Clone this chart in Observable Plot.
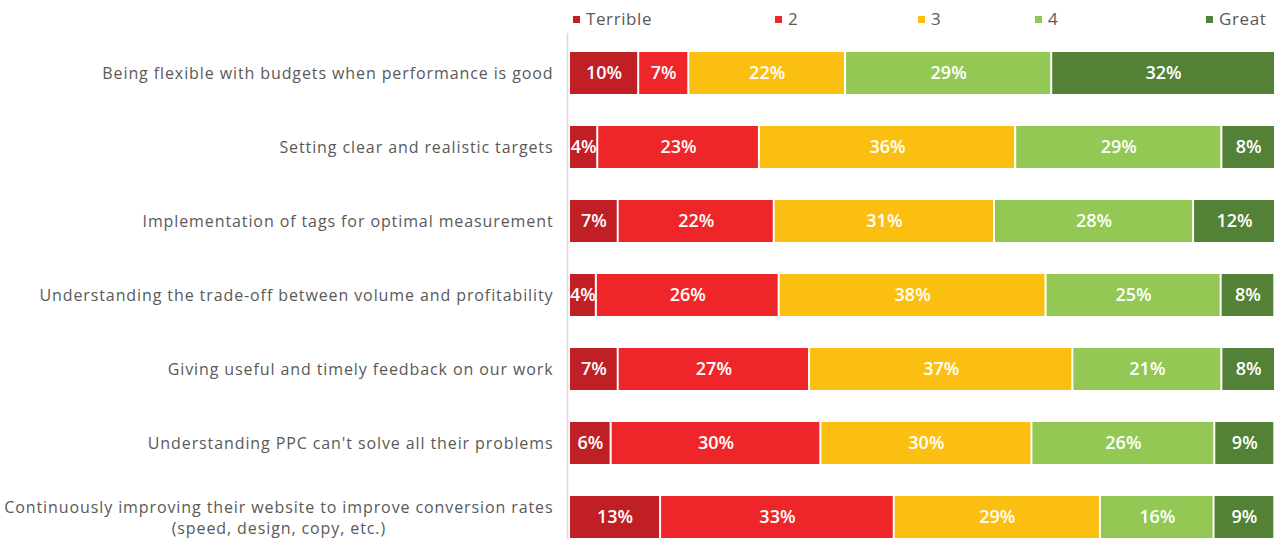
<!DOCTYPE html>
<html>
<head>
<meta charset="utf-8">
<script src="https://cdn.jsdelivr.net/npm/d3@7"></script>
<script src="https://cdn.jsdelivr.net/npm/@observablehq/plot@0.6"></script>
<style>
  html, body { margin: 0; padding: 0; background: #fff; }
  #wrap { width: 1275px; font-family: "Open Sans", sans-serif; color: #595959; }
  #legend { position: relative; width: 1275px; height: 38px; font-size: 17px; letter-spacing: 0.6px; }
  .item { position: absolute; top: 7px; line-height: 24px; white-space: nowrap; }
  .sw { display: inline-block; width: 7px; height: 7px; margin-right: 6px; vertical-align: middle; position: relative; top: -1px; }
  svg { display: block; overflow: visible; }
</style>
</head>
<body>
<div id="wrap">
  <div id="legend"></div>
  <div id="chart"></div>
</div>
<script>
const categories = [
  "Being flexible with budgets when performance is good",
  "Setting clear and realistic targets",
  "Implementation of tags for optimal measurement",
  "Understanding the trade-off between volume and profitability",
  "Giving useful and timely feedback on our work",
  "Understanding PPC can't solve all their problems",
  "Continuously improving their website to improve conversion rates\n(speed, design, copy, etc.)"
];
const levels = ["Terrible", "2", "3", "4", "Great"];
const levelColors = ["#C01F26", "#EE2629", "#FBBF12", "#92C853", "#538136"];
const terrible = [9.8, 4.0, 6.9, 3.8, 6.9, 5.9, 12.9];
const two      = [7.1, 22.9, 22.1, 25.9, 27.1, 29.7, 33.1];
const three    = [22.2, 36.3, 31.2, 37.8, 37.3, 29.9, 29.2];
const four     = [29.2, 29.2, 28.2, 24.8, 21.1, 25.9, 16.1];
const great    = [31.7, 7.6, 11.6, 7.6, 7.6, 8.5, 8.6];
const legendLeft = [573, 775, 918, 1035, 1206];

const series = [terrible, two, three, four, great];
const data = [];
levels.forEach((lv, i) => {
  categories.forEach((c, j) => data.push({cat: c, level: lv, value: series[i][j]}));
});

// legend
const legend = document.getElementById("legend");
levels.forEach((lv, i) => {
  const d = document.createElement("div");
  d.className = "item";
  d.style.left = legendLeft[i] + "px";
  d.innerHTML = `<span class="sw" style="background:${levelColors[i]}"></span>${lv}`;
  legend.appendChild(d);
});

const chart = Plot.plot({
  width: 1275,
  height: 502,
  marginLeft: 569,
  marginRight: 0,
  marginTop: 13,
  marginBottom: 1,
  style: {fontFamily: "Open Sans, sans-serif", fontSize: "16px", color: "#595959", background: "#fff", overflow: "visible"},
  x: {domain: [0, 100], axis: null},
  y: {domain: categories, paddingInner: 0.435, paddingOuter: 0, label: null},
  color: {domain: levels, range: levelColors},
  marks: [
    Plot.barX(data, Plot.stackX({x: "value", y: "cat", fill: "level", z: "level", insetLeft: 1, insetRight: 1})),
    Plot.text(data, Plot.stackX({x: "value", y: "cat", z: "level", text: d => Math.round(d.value) + "%", fill: "white", fontWeight: 600, fontSize: 18, clip: true})),
    Plot.ruleX([0], {stroke: "#d9d9d9", strokeWidth: 1.5, dx: -2, insetTop: -18}),
    Plot.axisY({tickSize: 0, tickPadding: 16, lineHeight: 1.35, fill: "#595959", fontSize: 16, dy: -1, label: null})
  ]
});
document.getElementById("chart").appendChild(chart);

// axis labels: wider letter spacing; center multi-line labels (as in the reference)
d3.select(chart).selectAll("g[aria-label='y-axis tick label'] text").attr("letter-spacing", "0.9px");
d3.select(chart).selectAll("text").each(function() {
  const ts = this.querySelectorAll("tspan");
  if (ts.length > 1) {
    const lens = Array.from(ts, t => t.getComputedTextLength());
    const maxLen = Math.max(...lens);
    const baseX = +(ts[0].getAttribute("x") || 0);
    this.setAttribute("text-anchor", "middle");
    ts.forEach(t => t.setAttribute("x", baseX - maxLen / 2));
  }
});
</script>
</body>
</html>
